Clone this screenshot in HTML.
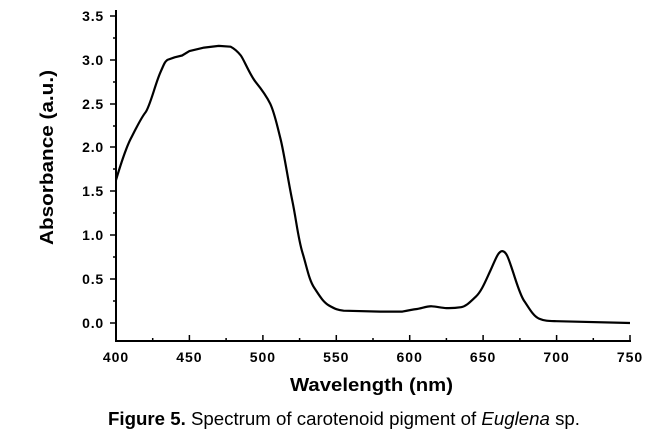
<!DOCTYPE html>
<html><head><style>body{margin:0;background:#fff}</style></head><body>
<svg width="670" height="439" xmlns="http://www.w3.org/2000/svg" style="display:block;font-family:'Liberation Sans',sans-serif">
<g stroke="#000" stroke-width="2" fill="none">
<line x1="116" y1="10" x2="116" y2="342"/>
<line x1="115" y1="341" x2="631" y2="341"/>
</g>
<g stroke="#000" stroke-width="1.5">
<line x1="110" y1="16" x2="116" y2="16"/><line x1="110" y1="60" x2="116" y2="60"/>
<line x1="110" y1="104" x2="116" y2="104"/><line x1="110" y1="147" x2="116" y2="147"/>
<line x1="110" y1="191" x2="116" y2="191"/><line x1="110" y1="235" x2="116" y2="235"/>
<line x1="110" y1="279" x2="116" y2="279"/><line x1="110" y1="323" x2="116" y2="323"/>
<line x1="113" y1="38" x2="116" y2="38"/><line x1="113" y1="82" x2="116" y2="82"/>
<line x1="113" y1="126" x2="116" y2="126"/><line x1="113" y1="169" x2="116" y2="169"/>
<line x1="113" y1="213" x2="116" y2="213"/><line x1="113" y1="257" x2="116" y2="257"/>
<line x1="113" y1="301" x2="116" y2="301"/>
<line x1="116" y1="335" x2="116" y2="341"/><line x1="189.4" y1="335" x2="189.4" y2="341"/>
<line x1="262.9" y1="335" x2="262.9" y2="341"/><line x1="336.3" y1="335" x2="336.3" y2="341"/>
<line x1="409.7" y1="335" x2="409.7" y2="341"/><line x1="483.1" y1="335" x2="483.1" y2="341"/>
<line x1="556.6" y1="335" x2="556.6" y2="341"/><line x1="630" y1="335" x2="630" y2="341"/>
<line x1="152.7" y1="338" x2="152.7" y2="341"/><line x1="226.1" y1="338" x2="226.1" y2="341"/>
<line x1="299.6" y1="338" x2="299.6" y2="341"/><line x1="373" y1="338" x2="373" y2="341"/>
<line x1="446.4" y1="338" x2="446.4" y2="341"/><line x1="519.9" y1="338" x2="519.9" y2="341"/>
<line x1="593.3" y1="338" x2="593.3" y2="341"/>
</g>
<g font-size="14" font-weight="bold" text-anchor="end" letter-spacing="0.8">
<text x="104" y="21">3.5</text><text x="104" y="65">3.0</text><text x="104" y="109">2.5</text>
<text x="104" y="152">2.0</text><text x="104" y="196">1.5</text><text x="104" y="240">1.0</text>
<text x="104" y="284">0.5</text><text x="104" y="328">0.0</text>
</g>
<g font-size="14" font-weight="bold" text-anchor="middle" letter-spacing="1">
<text x="116" y="362">400</text><text x="189.4" y="362">450</text><text x="262.9" y="362">500</text>
<text x="336.3" y="362">550</text><text x="409.7" y="362">600</text><text x="483.1" y="362">650</text>
<text x="556.6" y="362">700</text><text x="630" y="362">750</text>
</g>
<text x="290" y="391" font-size="18" font-weight="bold" textLength="163" lengthAdjust="spacingAndGlyphs">Wavelength (nm)</text>
<text transform="translate(53,245) rotate(-90)" font-size="18" font-weight="bold" textLength="175" lengthAdjust="spacingAndGlyphs">Absorbance (a.u.)</text>
<path fill="none" stroke="#000" stroke-width="2.2" stroke-linejoin="round" d="M116,180 C122,160 126,148 130.7,138.8 S141,118 145.4,112.5 S155,85 160.1,73.1 S165,62 167.4,59.9 L174.7,57.3 L182.1,55.5 L189.4,51.1 L204.1,47.6 L218.8,45.9 L230.6,46.7 C235,49 238,52 240.8,55.5 S250,75 255.5,81.8 S266,95 270.2,103.7 S277,125 280.5,138.8 S288,180 292.2,200.2 S298,238 302.5,252.8 S309,280 314.3,287.9 S323,302 329,305.5 S338,310 343.6,310.7 L380.3,311.6 L402.4,311.6 C410,310 413,309.5 417.1,309 S427,306 431.8,306.3 S442,308 446.5,308.1 S456,308 461.1,307.2 S470,302 475.8,296.7 S486,280 490.5,270.4 S498,251 502.3,251.1 S509,260 512.5,270.4 S520,295 524.3,301.1 S533,316 539,318.6 S550,321 556.6,321.2 L630,323"/>
<text x="108" y="425" font-size="18" textLength="472" lengthAdjust="spacingAndGlyphs"><tspan font-weight="bold">Figure 5.</tspan> Spectrum of carotenoid pigment of <tspan font-style="italic">Euglena</tspan> sp.</text>
</svg>
</body></html>
